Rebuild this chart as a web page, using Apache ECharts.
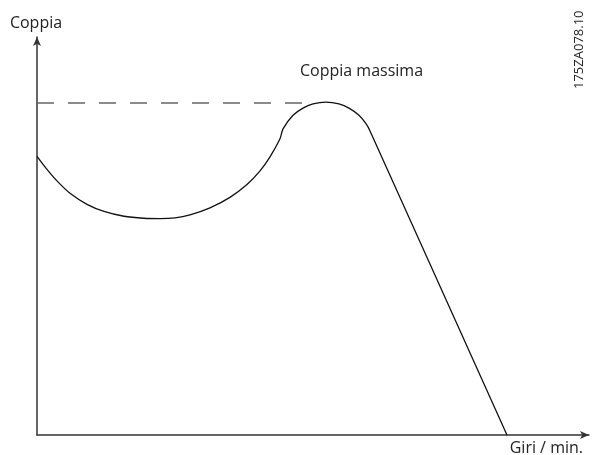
<!DOCTYPE html>
<html>
<head>
<meta charset="utf-8">
<script src="https://cdn.jsdelivr.net/npm/echarts@6/dist/echarts.min.js"></script>
<style>
  html, body { margin: 0; padding: 0; background: #fff; }
  #chart { width: 593px; height: 455px; }
</style>
</head>
<body>
<div id="chart"></div>
<script>
// curva coppia / giri (scala 0..100 su entrambi gli assi)
const giri = [0, 1.81, 3.62, 5.98, 9.06, 12.14, 15.76, 19.38, 22.28, 25.0, 27.72, 31.34, 34.96, 38.04, 40.4, 42.21, 44.02,
  44.57, 46.38, 48.19, 50.0, 52.36, 54.71, 56.52, 58.33, 59.6, 60.33, 85.14]
const coppia = [70.03, 66.75, 63.85, 60.73, 57.96, 56.17, 54.96, 54.46, 54.38, 54.57, 55.33, 57.09, 59.71, 62.92, 66.36, 69.89, 74.42,
  76.9, 80.33, 82.14, 83.17, 83.63, 83.17, 82.14, 80.33, 78.21, 76.37, 0]
const coppiaMax = 83.4
const dashFine = 48.2

const FONT = '"Open Sans"'
const chart = echarts.init(document.getElementById('chart'), null, { renderer: 'canvas' })

chart.setOption({
  animation: false,
  grid: { left: 37, right: 4, top: 37, bottom: 20 },
  xAxis: {
    type: 'value', min: 0, max: 100,
    axisLine: { show: true, symbol: ['none', 'arrow'], symbolSize: [6, 9],
      lineStyle: { color: '#333', width: 1.5 } },
    axisTick: { show: false }, axisLabel: { show: false }, splitLine: { show: false },
  },
  yAxis: {
    type: 'value', min: 0, max: 100,
    axisLine: { show: true, symbol: ['none', 'arrow'], symbolSize: [6, 9],
      lineStyle: { color: '#333', width: 1.5 } },
    axisTick: { show: false }, axisLabel: { show: false }, splitLine: { show: false },
  },
  series: [
    {
      type: 'line', data: giri.map((g, i) => [g, coppia[i]]),
      showSymbol: false, smooth: 0.3,
      lineStyle: { color: '#111', width: 1.3 },
    },
    {
      type: 'line', data: [[0, coppiaMax], [dashFine, coppiaMax]],
      showSymbol: false,
      lineStyle: { color: '#666', width: 1.4, type: [17, 14] },
    },
  ],
  graphic: [
    { type: 'text', x: 36, y: 23,
      style: { text: 'Coppia', fill: '#222', font: '16px ' + FONT, textAlign: 'center', textVerticalAlign: 'middle' } },
    { type: 'text', x: 300, y: 71,
      style: { text: 'Coppia massima', fill: '#222', font: '16px ' + FONT, textVerticalAlign: 'middle' } },
    { type: 'text', x: 583, y: 448,
      style: { text: 'Giri / min.', fill: '#222', font: '16px ' + FONT, textAlign: 'right', textVerticalAlign: 'middle' } },
    { type: 'text', x: 573, y: 89, rotation: Math.PI / 2,
      style: { text: '175ZA078.10', fill: '#222', font: '13px ' + FONT } },
  ],
})
</script>
</body>
</html>
